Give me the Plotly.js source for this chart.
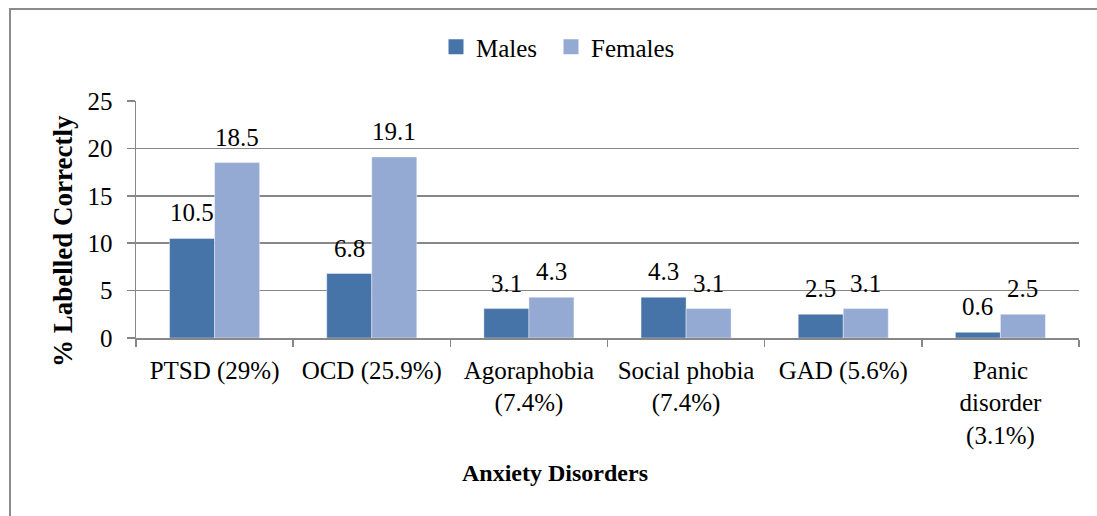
<!DOCTYPE html>
<html>
<head>
<meta charset="utf-8">
<script src="https://cdn.plot.ly/plotly-3.0.1.min.js"></script>
<style>
  html, body { margin: 0; padding: 0; background: #fff; }
  #chart { width: 1097px; height: 516px; }
</style>
</head>
<body>
<div id="chart"></div>
<script>
const categories = ["PTSD (29%)", "OCD (25.9%)", "Agoraphobia<br>(7.4%)", "Social phobia<br>(7.4%)", "GAD (5.6%)", "Panic<br>disorder<br>(3.1%)"];
const males = [10.5, 6.8, 3.1, 4.3, 2.5, 0.6];
const females = [18.5, 19.1, 4.3, 3.1, 3.1, 2.5];
const seriesNames = ["Males", "Females"];
const yTicks = [0, 5, 10, 15, 20, 25];

const FONT = "Liberation Serif, DejaVu Serif, serif";
const FS = 25;
const W = 1097, H = 516;
const margin = { l: 136, r: 18, t: 101, b: 178 };
const plotW = W - margin.l - margin.r;
const plotH = H - margin.t - margin.b;
const bargap = 0.427;
const catW = plotW / categories.length;
const barW = catW * (1 - bargap) / 2;

const colors = ["#4673A8", "#95AAD2"];
const seriesVals = [males, females];
const legendIds = ["legend", "legend2"];
const legendLeft = [436, 551];

const traces = [];
seriesVals.forEach((vals, si) => {
  traces.push({ type: "bar", name: seriesNames[si], x: categories, y: vals, showlegend: false,
    marker: { color: colors[si], line: { color: "rgba(255,255,255,0.5)", width: 0.8 } }, hoverinfo: "skip" });
});
seriesVals.forEach((vals, si) => {
  traces.push({ type: "scatter", mode: "markers", name: seriesNames[si], x: [categories[0]], y: [null],
    legend: legendIds[si],
    marker: { color: colors[si], symbol: "square", size: 15 }, showlegend: true, hoverinfo: "skip" });
});

const annotations = [];
seriesVals.forEach((vals, si) => {
  vals.forEach((v, i) => {
    annotations.push({
      x: categories[i], y: v, xref: "x", yref: "y",
      xshift: (si === 0 ? -1 : 1) * barW / 2, yshift: 10,
      text: v.toFixed(1), showarrow: false, yanchor: "bottom", xanchor: "center",
      font: { family: FONT, size: FS, color: "#000" }
    });
  });
});
annotations.push({
  xref: "paper", yref: "paper", x: (63 - margin.l) / plotW, y: (margin.t + plotH - 241) / plotH,
  text: "<b>% Labelled Correctly</b>", textangle: -90, showarrow: false,
  xanchor: "center", yanchor: "middle", font: { family: FONT, size: 27, color: "#000" }
});
annotations.push({
  xref: "paper", yref: "paper", x: (555 - margin.l) / plotW, y: (margin.t + plotH - 473) / plotH,
  text: "<b>Anxiety Disorders</b>", showarrow: false,
  xanchor: "center", yanchor: "middle", font: { family: FONT, size: 24, color: "#000" }
});

function legendSpec(left) {
  return {
    orientation: "h", x: (left - margin.l) / plotW, y: (margin.t + plotH - 47) / plotH,
    xanchor: "left", yanchor: "middle",
    font: { family: FONT, size: FS, color: "#000" }, bgcolor: "rgba(0,0,0,0)"
  };
}

const layout = {
  width: W, height: H,
  margin: margin,
  paper_bgcolor: "#fff", plot_bgcolor: "#fff",
  barmode: "group", bargap: bargap, bargroupgap: 0,
  font: { family: FONT, size: FS, color: "#000" },
  showlegend: true,
  legend: legendSpec(legendLeft[0]),
  legend2: legendSpec(legendLeft[1]),
  xaxis: {
    type: "category", tickson: "boundaries", ticks: "outside", ticklen: 7, tickwidth: 1.5,
    tickcolor: "#878787", showline: true, linecolor: "#878787", linewidth: 1.5,
    showgrid: false, tickfont: { family: FONT, size: FS, color: "#000" }, automargin: false,
    tickangle: 0, ticklabelstandoff: 9
  },
  yaxis: {
    range: [0, 25], tickvals: yTicks, ticktext: yTicks.map(String),
    ticks: "outside", ticklen: 8, tickwidth: 1.5, tickcolor: "#878787",
    showline: true, linecolor: "#878787", linewidth: 1.5,
    showgrid: true, gridcolor: "#878787", gridwidth: 1.5, zeroline: false,
    tickfont: { family: FONT, size: FS, color: "#000" }, automargin: false,
    ticklabelstandoff: 9
  },
  annotations: annotations,
  shapes: [{
    type: "rect", xref: "paper", yref: "paper",
    x0: (10 - margin.l) / plotW, x1: 1.2, y0: -2, y1: (margin.t + plotH - 9) / plotH,
    line: { color: "#8c8c8c", width: 2 }, fillcolor: "rgba(0,0,0,0)", layer: "below"
  }]
};

Plotly.newPlot("chart", traces, layout, { displayModeBar: false, staticPlot: true });
</script>
</body>
</html>
